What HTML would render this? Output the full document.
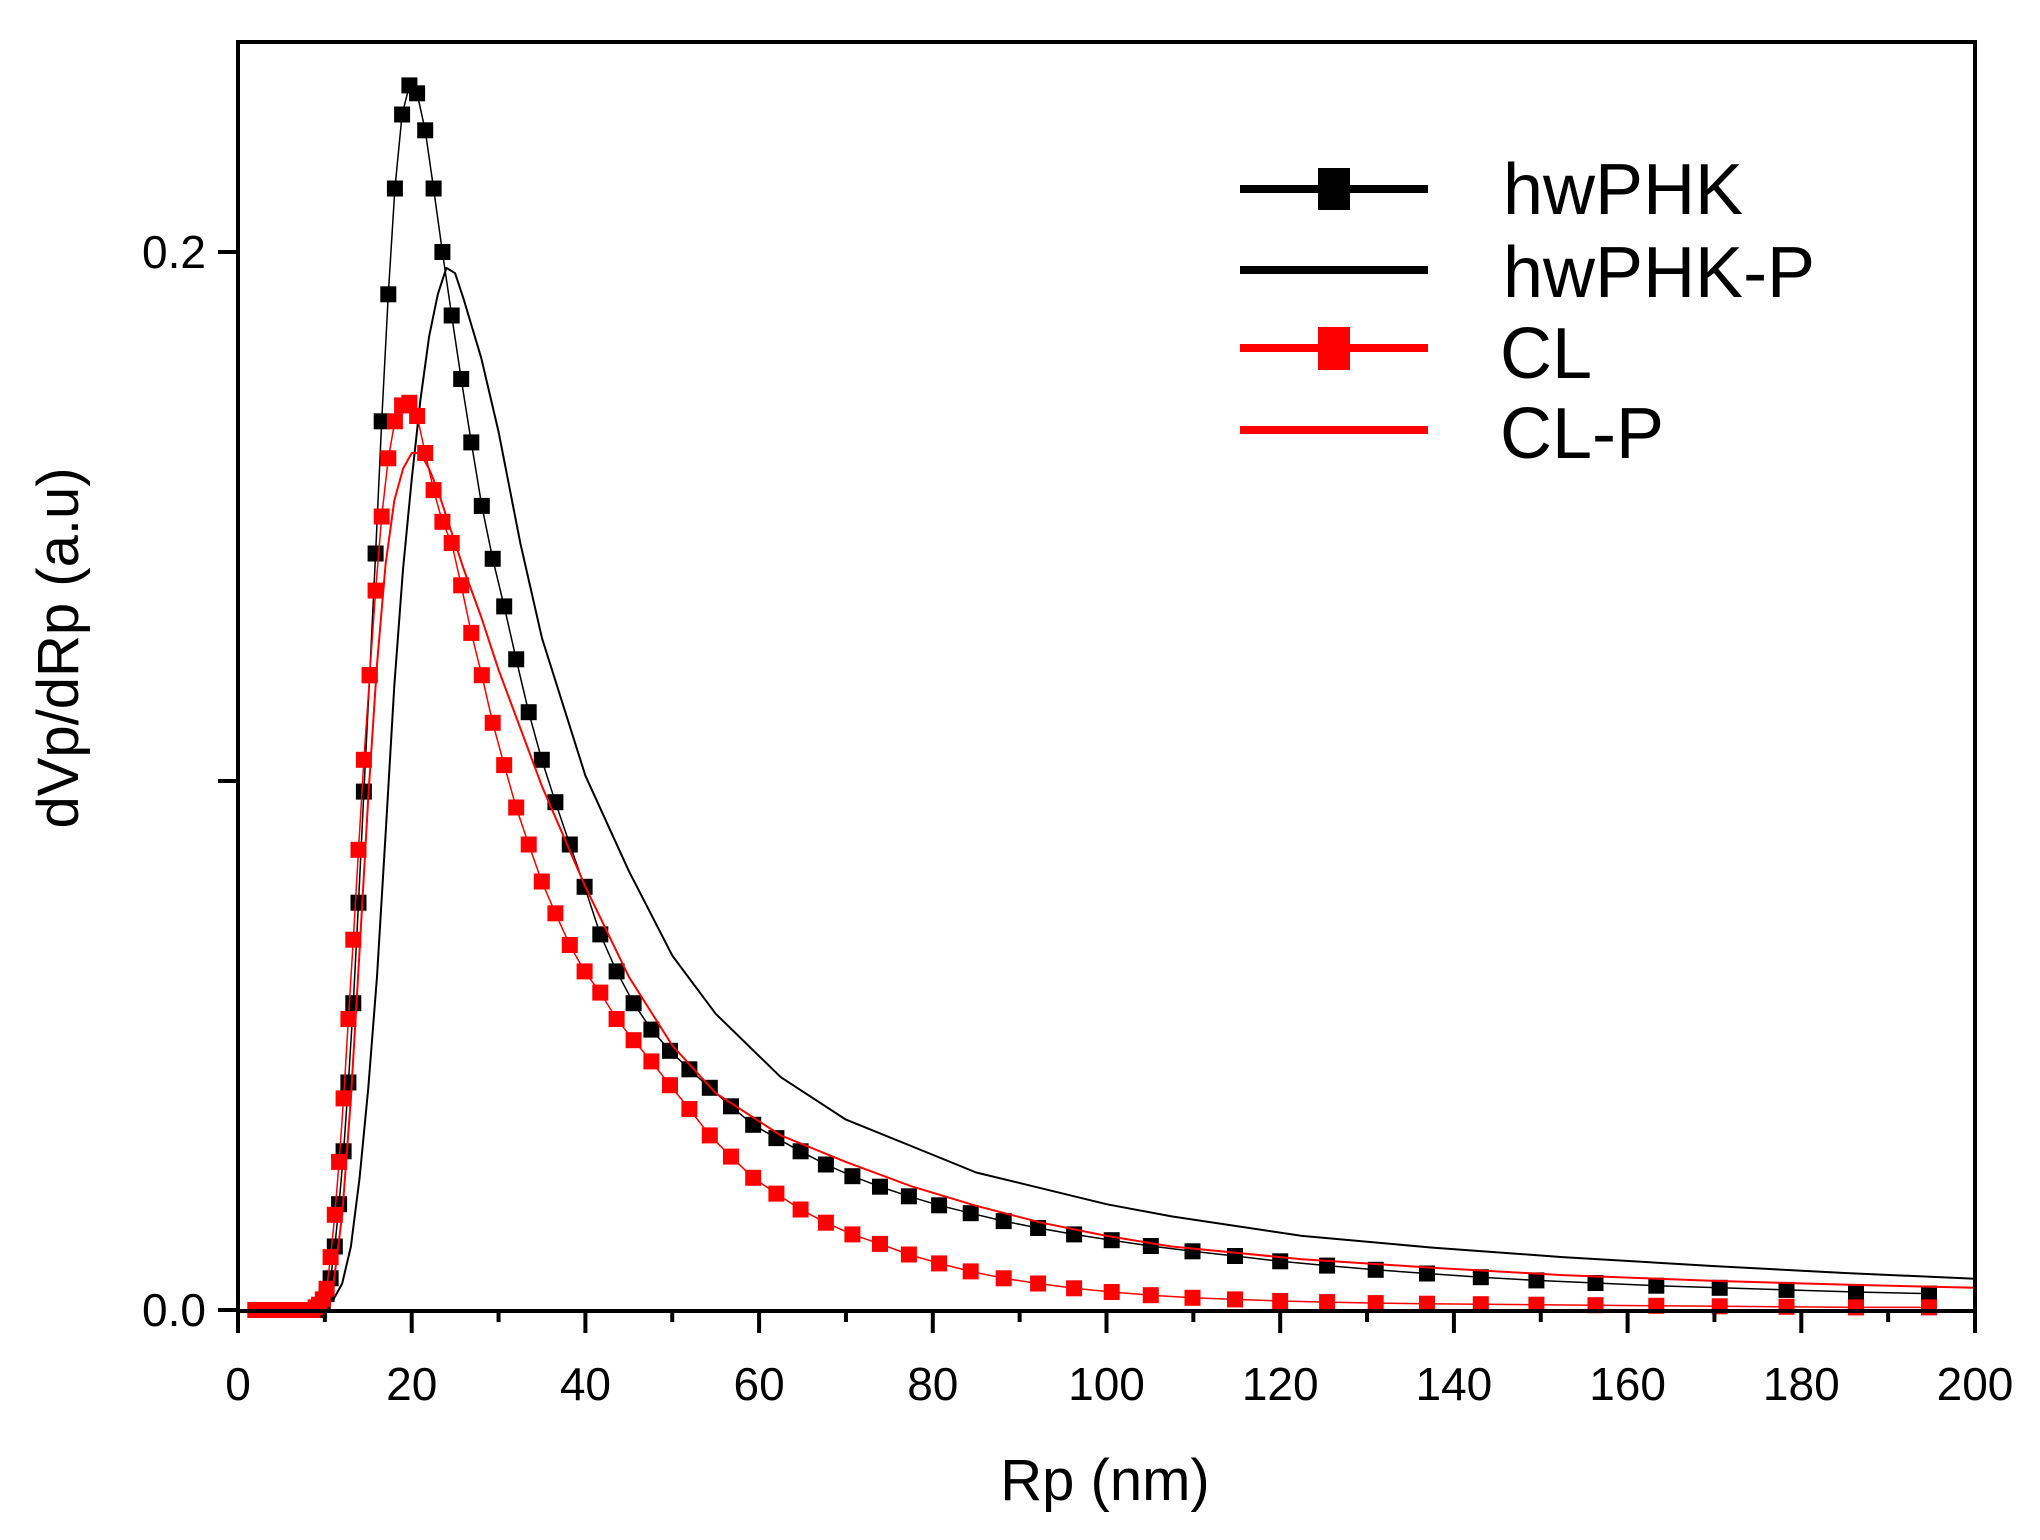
<!DOCTYPE html>
<html><head><meta charset="utf-8"><style>
html,body{margin:0;padding:0;background:#fff;}
svg text{font-family:"Liberation Sans",Arial,sans-serif;}
</style></head><body>
<svg id="chart" width="2040" height="1535" viewBox="0 0 2040 1535" xmlns="http://www.w3.org/2000/svg">
<rect x="0" y="0" width="2040" height="1535" fill="#fff"/>
<g id="series"></g>
<rect x="238" y="42" width="1737" height="1269" fill="none" stroke="#000" stroke-width="4"/>
<g id="axes"></g>
<text x="1105" y="1500" font-size="58" text-anchor="middle">Rp (nm)</text>
<text x="0" y="0" font-size="58" text-anchor="middle" transform="translate(78,648) rotate(-90)">dVp/dRp (a.u)</text>
<g>
<g>
<line x1="1240" y1="189" x2="1428" y2="189" stroke="#000" stroke-width="8"/>
<rect x="1318" y="168" width="32" height="42" fill="#000"/>
<text x="1503" y="214" font-size="72">hwPHK</text></g>
<g>
<line x1="1240" y1="270" x2="1428" y2="270" stroke="#000" stroke-width="8"/>
<text x="1503" y="297" font-size="72">hwPHK-P</text></g>
<g>
<line x1="1240" y1="348" x2="1428" y2="348" stroke="#f00" stroke-width="8"/>
<rect x="1318" y="327" width="32" height="43" fill="#f00"/>
<text x="1500" y="378" font-size="72">CL</text></g>
<g>
<line x1="1240" y1="430" x2="1428" y2="430" stroke="#f00" stroke-width="8"/>
<text x="1500" y="458" font-size="72">CL-P</text></g>
</g>
</svg>
<script>
const markerX=[2.00,2.09,2.18,2.28,2.39,2.49,2.60,2.72,2.84,2.97,3.11,3.25,3.39,3.55,3.71,3.87,4.05,4.23,4.42,4.62,4.82,5.04,5.27,5.51,5.75,6.01,6.28,6.57,6.86,7.17,7.49,7.83,8.18,8.55,8.94,9.34,9.76,10.2,10.66,11.14,11.64,12.16,12.71,13.28,13.88,14.5,15.16,15.84,16.55,17.3,18.07,18.89,19.74,20.62,21.55,22.52,23.54,24.6,25.7,26.86,28.07,29.33,30.65,32.03,33.47,34.98,36.55,38.2,39.91,41.71,43.59,45.55,47.6,49.74,51.98,54.32,56.76,59.32,61.99,64.78,67.69,70.74,73.92,77.25,80.73,84.36,88.16,92.12,96.27,100.6,105.1,109.9,114.8,120.0,125.4,131.0,136.9,143.1,149.5,156.3,163.3,170.6,178.3,186.3,194.7];
const hwPHK=[0,0,0,0,0,0,0,0,0,0,0,0,0,0,0,0,0,0,0,0,0,0,0,0,0,0,0,0,0,0,0,0,0,0,0,0,0.001,0.003,0.006,0.012,0.02,0.03,0.043,0.058,0.077,0.098,0.12,0.143,0.168,0.192,0.212,0.226,0.2315,0.23,0.223,0.212,0.2,0.188,0.176,0.164,0.152,0.142,0.133,0.123,0.113,0.104,0.096,0.088,0.08,0.071,0.064,0.058,0.053,0.049,0.0455,0.042,0.0385,0.035,0.0325,0.030,0.0275,0.0253,0.0233,0.0215,0.0198,0.0183,0.0168,0.0155,0.0143,0.0132,0.0121,0.0111,0.0102,0.0092,0.0084,0.0076,0.0069,0.0062,0.0056,0.0051,0.0046,0.0042,0.0038,0.0034,0.0031];
const CL=[0,0,0,0,0,0,0,0,0,0,0,0,0,0,0,0,0,0,0,0,0,0,0,0,0,0,0,0,0,0,0,0,0,0,0.0005,0.001,0.002,0.004,0.01,0.018,0.028,0.04,0.055,0.07,0.087,0.104,0.12,0.136,0.15,0.161,0.168,0.171,0.1715,0.169,0.162,0.155,0.149,0.145,0.137,0.128,0.12,0.111,0.103,0.095,0.088,0.081,0.075,0.069,0.064,0.06,0.055,0.051,0.047,0.0425,0.038,0.033,0.029,0.025,0.022,0.019,0.0165,0.0143,0.0125,0.0105,0.0088,0.0073,0.006,0.005,0.0041,0.0034,0.0028,0.0023,0.002,0.0017,0.0015,0.0013,0.0012,0.0011,0.001,0.0009,0.0008,0.0007,0.0006,0.0005,0.0005];
const lineX=[2,8,10,11,12,13,14,15,16,17,18,19,20,21,22,23,24,25,26,28,30,32.5,35,40,45,50,55,62.5,70,77.5,85,92.5,100,107.5,122.5,137.5,152.5,170,185,200];
const hwPHKP=[0,0,0.001,0.002,0.005,0.012,0.025,0.042,0.063,0.09,0.118,0.14,0.157,0.172,0.184,0.192,0.197,0.196,0.191,0.18,0.166,0.145,0.127,0.101,0.083,0.067,0.056,0.044,0.036,0.031,0.026,0.023,0.020,0.0177,0.014,0.0118,0.010,0.0083,0.007,0.0059];
const CLP=[0,0,0.001,0.005,0.018,0.04,0.068,0.097,0.122,0.141,0.153,0.159,0.162,0.162,0.159,0.155,0.15,0.145,0.14,0.131,0.121,0.11,0.099,0.08,0.063,0.05,0.041,0.033,0.028,0.0234,0.0197,0.0165,0.014,0.012,0.0096,0.008,0.0066,0.0055,0.0048,0.0042];
const xTicks=[0,20,40,60,80,100,120,140,160,180,200];
const xMinor=[10,30,50,70,90,110,130,150,170,190];
const yTicks=[0,0.1,0.2];
const yTickLabels=["0.0","","0.2"];

const NS="http://www.w3.org/2000/svg";
function sx(v){return 238+v/200*1737;}
function sy(v){return 1310-v/0.2*1058;}
const seriesG=document.getElementById('series');
const axesG=document.getElementById('axes');
function mk(tag,attrs,parent){const e=document.createElementNS(NS,tag);for(const k in attrs)e.setAttribute(k,attrs[k]);parent.appendChild(e);return e;}
function poly(xs,ys,color,w,name){
  const p=mk('polyline',{points:xs.map((x,i)=>sx(x).toFixed(1)+','+sy(ys[i]).toFixed(1)).join(' '),fill:'none',stroke:color,'stroke-width':w,'stroke-linejoin':'round'},seriesG);
  
  
}
function markers(xs,ys,color,name){
  const g=mk('g',{fill:color},seriesG);
  
  
  xs.forEach((x,i)=>{
    const r=mk('rect',{x:(sx(x)-8).toFixed(1),y:(sy(ys[i])-8).toFixed(1),width:16,height:16},g);
    
    
  });
}
poly(lineX,hwPHKP,'#000',2,'hwphk-p-line');
poly(markerX,hwPHK,'#000',1.5,'hwphk-line');
markers(markerX,hwPHK,'#000','hwphk-markers');
poly(markerX,CL,'#f00',1.5,'cl-line');
markers(markerX,CL,'#f00','cl-markers');
poly(lineX,CLP,'#f00',2,'cl-p-line');

xTicks.forEach(v=>{
  const l=mk('line',{x1:sx(v),x2:sx(v),y1:1311,y2:1333,stroke:'#000','stroke-width':4},axesG);
  
  
  const t=mk('text',{x:sx(v),y:1400,'font-size':46,'text-anchor':'middle'},axesG);
  t.textContent=String(v);
  
  
});
xMinor.forEach(v=>{
  const l=mk('line',{x1:sx(v),x2:sx(v),y1:1311,y2:1322,stroke:'#000','stroke-width':4},axesG);
  
  
});
yTicks.forEach((v,i)=>{
  const l=mk('line',{x1:218,x2:238,y1:sy(v),y2:sy(v),stroke:'#000','stroke-width':4},axesG);
  
  
  if(yTickLabels[i]){
    const t=mk('text',{x:206,y:sy(v)+16,'font-size':46,'text-anchor':'end'},axesG);
    t.textContent=yTickLabels[i];
    
    
  }
});
</script>
</body></html>
